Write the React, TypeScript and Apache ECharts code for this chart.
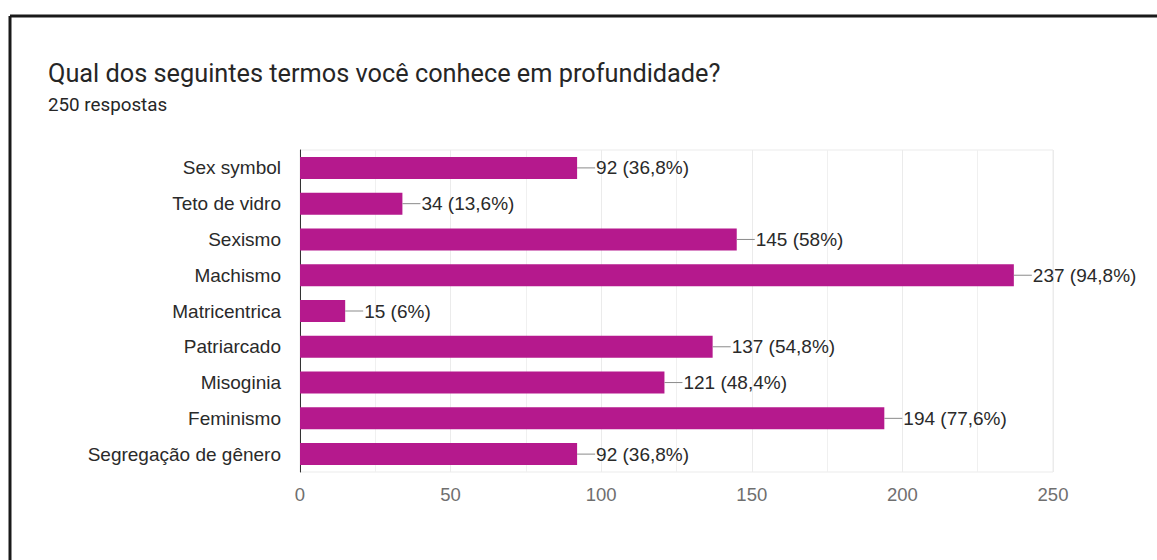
import React, { useEffect, useRef } from "react";
import * as echarts from "echarts";

const categories = [
  "Sex symbol",
  "Teto de vidro",
  "Sexismo",
  "Machismo",
  "Matricentrica",
  "Patriarcado",
  "Misoginia",
  "Feminismo",
  "Segregação de gênero",
];
const values = [92, 34, 145, 237, 15, 137, 121, 194, 92];
const percentLabels = ["36,8%", "13,6%", "58%", "94,8%", "6%", "54,8%", "48,4%", "77,6%", "36,8%"];
const xTicks = [0, 50, 100, 150, 200, 250];

const TITLE = "Qual dos seguintes termos você conhece em profundidade?";
const SUBTITLE = "250 respostas";

export default function App() {
  const ref = useRef<HTMLDivElement>(null);
  useEffect(() => {
    if (!ref.current) return;
    const chart = echarts.init(ref.current, null, { renderer: "svg" });
    const titleFont = "Roboto, Arial, sans-serif";
    const font = "'Liberation Sans', Arial, sans-serif";
    chart.setOption({
      animation: false,
      backgroundColor: "#ffffff",
      textStyle: { fontFamily: font },
      title: [
        {
          text: TITLE,
          left: 43,
          top: 56,
          textStyle: { fontFamily: titleFont, fontSize: 25.3, fontWeight: "normal", color: "#262626" },
        },
        {
          text: SUBTITLE,
          left: 43,
          top: 90,
          textStyle: { fontFamily: titleFont, fontSize: 18.8, fontWeight: "normal", color: "#262626" },
        },
      ],
      graphic: [
        {
          type: "line",
          shape: { x1: 10, y1: 16, x2: 1157, y2: 16 },
          style: { stroke: "#1a1a1a", lineWidth: 3 },
        },
        {
          type: "line",
          shape: { x1: 10, y1: 16, x2: 10, y2: 560 },
          style: { stroke: "#1a1a1a", lineWidth: 3 },
        },
      ],
      grid: {
        left: 300,
        right: 104,
        top: 150,
        bottom: 88,
        show: true,
        borderColor: "#ebebeb",
        borderWidth: 1,
      },
      xAxis: {
        type: "value",
        min: xTicks[0],
        max: xTicks[xTicks.length - 1],
        interval: 50,
        axisLine: { show: false },
        axisTick: { show: false },
        axisLabel: { color: "#6f6f6f", fontSize: 18.5, margin: 13, fontFamily: font },
        splitLine: { show: true, lineStyle: { color: "#ebebeb", width: 1 } },
        minorTick: { show: false, splitNumber: 2 },
        minorSplitLine: { show: true, lineStyle: { color: "#f0f0f0", width: 1 } },
      },
      yAxis: {
        type: "category",
        data: categories,
        inverse: true,
        axisLine: { show: true, lineStyle: { color: "#333333", width: 1 } },
        axisTick: { show: false },
        axisLabel: { color: "#2a2a2a", fontSize: 19, margin: 19, fontFamily: font },
        splitLine: { show: false },
      },
      series: [
        {
          type: "bar",
          data: values,
          barWidth: 22,
          itemStyle: { color: "#b5198d" },
          label: {
            show: true,
            position: "right",
            distance: 0,
            formatter: (p: any) => `{l|}{v|${values[p.dataIndex]} (${percentLabels[p.dataIndex]})}`,
            rich: {
              l: { width: 18, height: 1, backgroundColor: "#8a8a8a", verticalAlign: "middle" },
              v: { color: "#2a2a2a", fontSize: 19, fontFamily: font, padding: [0, 0, 0, 1] },
            },
          },
        },
      ],
    });
    return () => chart.dispose();
  }, []);
  return (
    <div
      ref={ref}
      style={{ position: "absolute", left: 0, top: 0, width: 1157, height: 560 }}
    />
  );
}
